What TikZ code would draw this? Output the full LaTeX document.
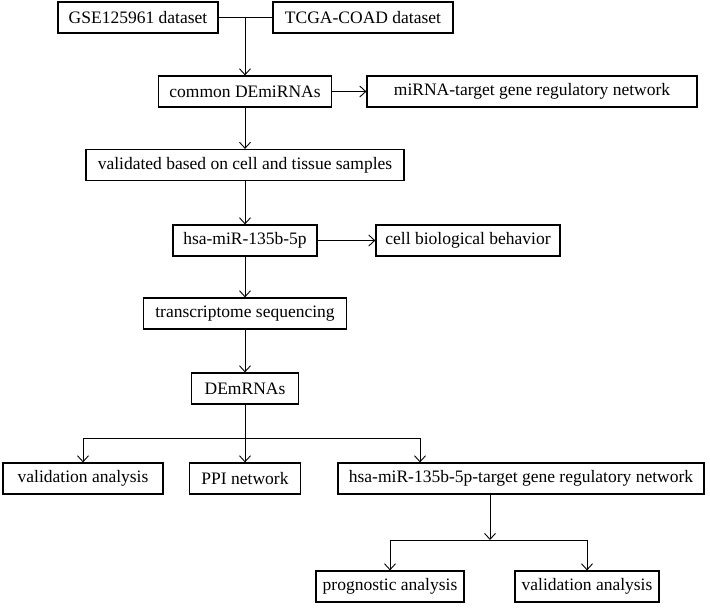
\documentclass[tikz,border=0pt]{standalone}
\usepackage{fontspec}
\setmainfont{Liberation Serif}
\usepackage{tikz}
\usetikzlibrary{arrows.meta,positioning,calc}

\begin{document}
\begin{tikzpicture}[x=1pt, y=-1pt, >={Straight Barb[length=6pt,width=11pt]},
	box/.style={draw, line width=1.2pt, inner sep=0pt, minimum height=31pt, font=\fontsize{17.5}{20}\selectfont},
	link/.style={line width=0.9pt}]
	\useasboundingbox (0,0) rectangle (710,610);

	% data sources
	\node (gse)  at (138,17.5) [box, minimum width=160pt] {GSE125961 dataset};
	\node (tcga) at (363,17.5) [box, minimum width=180pt] {TCGA-COAD dataset};

	\node (common) at (245,91.5)  [box, minimum width=173pt] {common DEmiRNAs};
	\node (mirnet) at (532,91.5)  [box, minimum width=330pt] {miRNA-target gene regulatory network};
	\node (valid)  at (245,165)   [box, minimum width=318pt] {validated based on cell and tissue samples};
	\node (hsa)    at (245,240.5) [box, minimum width=144pt] {hsa-miR-135b-5p};
	\node (cell)   at (468,240.5) [box, minimum width=184pt] {cell biological behavior};
	\node (trans)  at (245,313.5) [box, minimum width=203pt] {transcriptome sequencing};
	\node (demrna) at (245,388.5) [box, minimum width=107pt] {DEmRNAs};

	% outcomes
	\node (valone) at (83,478.5)  [box, minimum width=160pt] {validation analysis};
	\node (ppi)    at (245,478.5) [box, minimum width=111pt] {PPI network};
	\node (hsanet) at (521,478.5) [box, minimum width=366pt] {hsa-miR-135b-5p-target gene regulatory network};
	\node (prog)   at (390,586.5) [box, minimum width=148pt] {prognostic analysis};
	\node (valtwo) at (587,586.5) [box, minimum width=144pt] {validation analysis};

	\coordinate (merge)  at (245,17.5);
	\coordinate (splitA) at (245,438);
	\coordinate (tipA)   at (420,438);
	\coordinate (splitB) at (490,540);

	\draw [link] (gse) -- (tcga);
	\draw [link, ->] (merge) -- (common);
	\draw [link, ->] (common) -- (mirnet);
	\draw [link, ->] (common) -- (valid);
	\draw [link, ->] (valid) -- (hsa);
	\draw [link, ->] (hsa) -- (cell);
	\draw [link, ->] (hsa) -- (trans);
	\draw [link, ->] (trans) -- (demrna);

	\draw [link] (demrna) -- (splitA);
	\draw [link, ->] (splitA) -- (ppi);
	\draw [link, ->] (splitA) -| (valone);
	\draw [link, ->] (splitA) -- (tipA) -- (tipA |- hsanet.north);

	\draw [link, ->] (splitB |- hsanet.south) -- (splitB);
	\draw [link, ->] (splitB) -| (prog);
	\draw [link, ->] (splitB) -| (valtwo);
\end{tikzpicture}
\end{document}
